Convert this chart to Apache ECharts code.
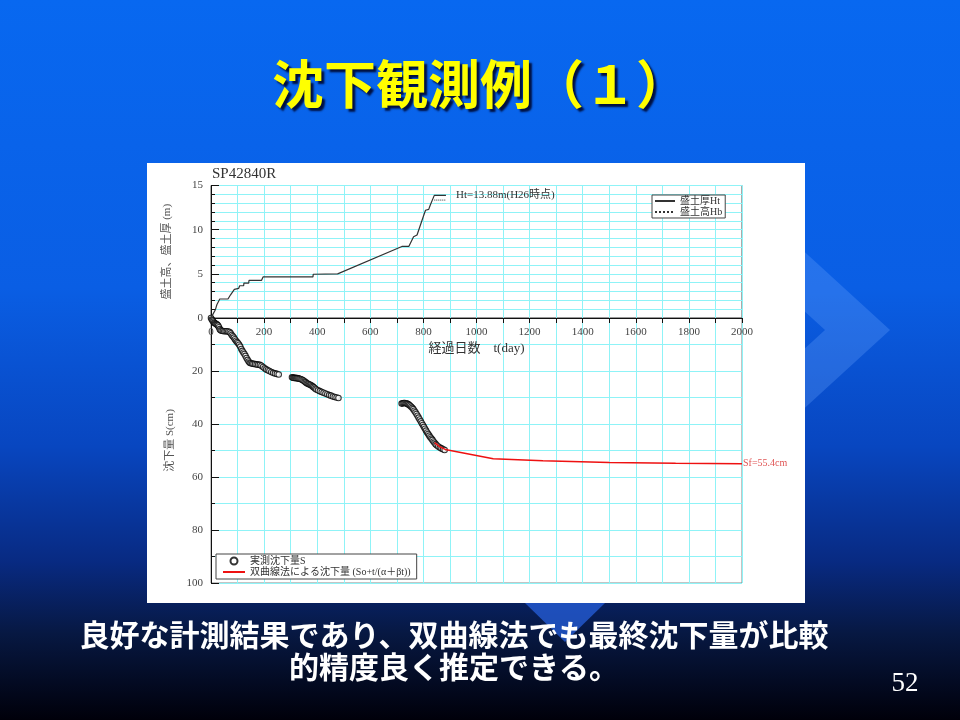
<!DOCTYPE html>
<html>
<head>
<meta charset="utf-8">
<script src="https://cdn.jsdelivr.net/npm/echarts@6/dist/echarts.min.js"></script>
<style>
  html, body { margin: 0; padding: 0; background: #000; }
  #chart { width: 960px; height: 720px; }
</style>
</head>
<body>
<div id="chart"></div>
<script>
// fill thickness Ht (m) by elapsed days
const htDays = [0, 5, 16, 22, 33, 64, 73, 88, 104, 108, 123, 124, 142, 143, 190, 196, 384, 385, 477, 719, 745, 763, 776, 801, 808, 820, 826, 841, 885]
const htValues = [0, 0.3, 0.9, 1.5, 2.15, 2.15, 2.6, 3.25, 3.35, 3.65, 3.65, 3.95, 3.95, 4.25, 4.25, 4.65, 4.65, 4.95, 5.0, 8.1, 8.1, 9.2, 9.4, 11.6, 12.2, 12.3, 12.8, 13.88, 13.88]

// fill height Hb (m)
const hbDays = [841, 885]
const hbValues = [13.35, 13.35]

// measured settlement S (cm)
const sDays = [
  0, 3, 6, 9, 12, 15, 18, 21, 24, 27, 30, 33, 36, 40, 45, 50, 55, 60, 65, 70,
  74, 78, 82, 86, 90, 94, 98, 102, 106, 110, 114, 118, 122, 126, 130, 134, 138, 142, 146, 150,
  155, 160, 166, 172, 178, 184, 190, 196, 202, 208, 214, 220, 227, 234, 241, 248, 255,
  305, 309, 313, 317, 321, 325, 329, 333, 337, 341, 345, 349, 353, 357, 361, 365, 369, 373, 377,
  381, 385, 389, 393, 397, 403, 410, 417, 424, 431, 438, 445, 452, 459, 466, 473, 480,
  718, 722, 726, 730, 734, 738, 742, 746, 750, 754, 758, 762, 766, 770, 774, 778, 782, 786, 790, 794,
  798, 802, 806, 810, 814, 818, 822, 826, 830, 834, 838, 842, 846, 850, 856, 862, 868, 874, 880
]
const sValues = [
  0, 0.6, 1.0, 1.4, 1.8, 2.0, 2.2, 2.4, 2.6, 2.9, 3.5, 4.2, 4.6, 4.8, 4.9, 5.0, 5.0, 5.0, 5.1, 5.3,
  5.8, 6.4, 6.9, 7.4, 8.0, 8.6, 9.1, 9.5, 10.1, 10.8, 11.7, 12.4, 13.0, 13.6, 14.3, 15.1, 15.8, 16.4, 16.9, 17.1,
  17.2, 17.3, 17.4, 17.5, 17.6, 17.7, 18.0, 18.5, 19.0, 19.4, 19.7, 20.0, 20.4, 20.7, 20.9, 21.1, 21.3,
  22.4, 22.5, 22.6, 22.6, 22.7, 22.7, 22.8, 22.9, 23.0, 23.2, 23.4, 23.7, 24.0, 24.3, 24.6, 24.8, 25.0, 25.2, 25.4,
  25.7, 26.0, 26.3, 26.7, 27.0, 27.3, 27.6, 27.9, 28.2, 28.5, 28.8, 29.1, 29.3, 29.6, 29.8, 30.0, 30.2,
  32.3, 32.2, 32.1, 32.1, 32.2, 32.3, 32.5, 32.8, 33.1, 33.5, 33.9, 34.4, 35.0, 35.6, 36.2, 36.9, 37.6, 38.3, 39.0, 39.7,
  40.4, 41.1, 41.8, 42.5, 43.2, 43.8, 44.4, 45.0, 45.5, 46.0, 46.6, 47.1, 47.6, 48.0, 48.5, 48.9, 49.2, 49.5, 49.8
]

// hyperbolic method prediction (cm)
const fitDays = [842, 862, 882, 1063, 1250, 1500, 1750, 2000]
const fitValues = [47.0, 48.6, 49.6, 53.1, 53.9, 54.5, 54.8, 55.0]

const serif = '"Liberation Serif", "Noto Sans CJK JP", serif'
const gridCyan = '#8ff3f7'

const pairs = (xs, ys) => xs.map((x, i) => [x, ys[i]])
const plain = v => String(v)

const chart = echarts.init(document.getElementById('chart'))

const option = {
  backgroundColor: {
    type: 'linear', x: 0, y: 0, x2: 0, y2: 1,
    colorStops: [
      { offset: 0, color: '#0868f0' },
      { offset: 0.4, color: '#0a5ee4' },
      { offset: 0.62, color: '#0846c0' },
      { offset: 0.78, color: '#082a82' },
      { offset: 0.88, color: '#071842' },
      { offset: 1, color: '#00000a' }
    ]
  },
  animation: false,
  graphic: [
    {
      type: 'polygon', z: -30, silent: true,
      shape: { points: [[650, 170], [715, 170], [890, 330], [715, 490], [650, 490], [825, 330]] },
      style: { fill: 'rgba(110,170,255,0.28)' }
    },
    {
      type: 'polygon', z: -30, silent: true,
      shape: { points: [[525, 603], [605, 603], [565, 642]] },
      style: { fill: 'rgba(40,100,230,0.7)' }
    },
    {
      type: 'rect', z: -20, silent: true,
      shape: { x: 147, y: 163, width: 658, height: 440 },
      style: { fill: '#ffffff' }
    },
    {
      type: 'text', left: 'center', top: 58,
      style: {
        text: '沈下観測例（１）', fill: '#ffff00',
        font: 'bold 52px "Noto Sans CJK JP", sans-serif',
        textShadowColor: '#001040', textShadowOffsetX: 3, textShadowOffsetY: 3, textShadowBlur: 2
      }
    },
    {
      type: 'text', x: 212, y: 167,
      style: { text: 'SP42840R', fill: '#333', font: '15px "Liberation Serif", serif' }
    },
    {
      type: 'text', x: 454, y: 619,
      style: {
        text: '良好な計測結果であり、双曲線法でも最終沈下量が比較\n的精度良く推定できる。',
        fill: '#ffffff', align: 'center', lineHeight: 32,
        font: 'bold 30px "Noto Sans CJK JP", sans-serif'
      }
    },
    {
      type: 'text', x: 905, y: 670,
      style: { text: '52', fill: '#ffffff', align: 'center', font: '27px "Liberation Serif", serif' }
    }
  ],
  legend: [
    {
      data: [
        { name: '盛土厚Ht', itemStyle: { opacity: 0 } },
        { name: '盛土高Hb', itemStyle: { opacity: 0 } }
      ],
      orient: 'vertical', left: 652, top: 195,
      itemWidth: 20, itemHeight: 8, itemGap: 1,
      padding: [1, 3, 1, 2],
      borderColor: '#444', borderWidth: 1, backgroundColor: '#fff',
      textStyle: { fontFamily: serif, fontSize: 10, color: '#333' }
    },
    {
      data: [
        { name: '実測沈下量S' },
        { name: '双曲線法による沈下量 (So+t/(α＋βt))', itemStyle: { opacity: 0 } }
      ],
      orient: 'vertical', left: 216, top: 554,
      itemWidth: 22, itemHeight: 7, itemGap: 1,
      padding: [2, 6, 2, 6],
      borderColor: '#444', borderWidth: 1, backgroundColor: '#fff',
      textStyle: { fontFamily: serif, fontSize: 10, color: '#333' }
    }
  ],
  grid: [
    { left: 211, top: 185.5, width: 531, height: 132.5, show: true, borderColor: '#555', borderWidth: 1 },
    { left: 211, top: 318, width: 531, height: 265, show: true, borderColor: '#888', borderWidth: 1 }
  ],
  xAxis: [
    {
      gridIndex: 0, type: 'value', min: 0, max: 2000, interval: 200, position: 'bottom',
      name: '経過日数　t(day)', nameLocation: 'middle', nameGap: 24,
      nameTextStyle: { fontFamily: serif, fontSize: 13, color: '#333' },
      axisLine: { lineStyle: { color: '#111', width: 1 } },
      axisTick: { length: 5, lineStyle: { color: '#111' } },
      minorTick: { show: true, splitNumber: 2, length: 5, lineStyle: { color: '#111' } },
      axisLabel: { fontFamily: serif, fontSize: 11, color: '#444', margin: 9, formatter: plain },
      splitLine: { lineStyle: { color: gridCyan } },
      minorSplitLine: { show: true, lineStyle: { color: gridCyan } }
    },
    {
      gridIndex: 1, type: 'value', min: 0, max: 2000, interval: 200,
      axisLine: { show: false }, axisTick: { show: false }, axisLabel: { show: false },
      splitLine: { lineStyle: { color: gridCyan } },
      minorTick: { show: false, splitNumber: 2 },
      minorSplitLine: { show: true, lineStyle: { color: gridCyan } }
    }
  ],
  yAxis: [
    {
      gridIndex: 0, type: 'value', min: 0, max: 15, interval: 5,
      name: '盛土高、盛土厚 (m)', nameLocation: 'middle', nameGap: 38, nameRotate: 90,
      nameTextStyle: { fontFamily: serif, fontSize: 11, color: '#555' },
      axisLine: { show: true, lineStyle: { color: '#111' } },
      axisTick: { inside: true, length: 8, lineStyle: { color: '#111' } },
      minorTick: { show: true, splitNumber: 5, length: 4, lineStyle: { color: '#111' } },
      axisLabel: { fontFamily: serif, fontSize: 11, color: '#444', margin: 8 },
      splitLine: { lineStyle: { color: gridCyan } },
      minorSplitLine: { show: true, lineStyle: { color: gridCyan } }
    },
    {
      gridIndex: 1, type: 'value', min: 0, max: 100, interval: 20, inverse: true,
      name: '沈下量 S(cm)', nameLocation: 'middle', nameGap: 33, nameRotate: 90,
      nameTextStyle: { fontFamily: serif, fontSize: 11, color: '#555', padding: [0, 0, 0, 20] },
      axisLine: { show: true, lineStyle: { color: '#111' } },
      axisTick: { inside: true, length: 8, lineStyle: { color: '#111' } },
      minorTick: { show: true, splitNumber: 2, length: 4, lineStyle: { color: '#111' } },
      axisLabel: {
        fontFamily: serif, fontSize: 11, color: '#444', margin: 8,
        formatter: v => (v === 0 ? '' : String(v))
      },
      splitLine: { lineStyle: { color: gridCyan } },
      minorSplitLine: { show: true, lineStyle: { color: gridCyan } }
    }
  ],
  series: [
    {
      name: '盛土厚Ht', type: 'line', xAxisIndex: 0, yAxisIndex: 0,
      data: pairs(htDays, htValues), symbol: 'none',
      lineStyle: { color: '#333', width: 1.2 }, itemStyle: { color: '#333' },
      endLabel: {
        show: true, distance: 10, formatter: 'Ht=13.88m(H26時点)',
        fontFamily: serif, fontSize: 11, color: '#333'
      }
    },
    {
      name: '盛土高Hb', type: 'line', xAxisIndex: 0, yAxisIndex: 0,
      data: pairs(hbDays, hbValues), symbol: 'none',
      lineStyle: { color: '#333', width: 1, type: 'dotted' }, itemStyle: { color: '#333' }
    },
    {
      name: '実測沈下量S', type: 'scatter', xAxisIndex: 1, yAxisIndex: 1,
      data: pairs(sDays, sValues), symbol: 'circle', symbolSize: 5.5,
      itemStyle: { color: '#ffffff', borderColor: '#000', borderWidth: 1.1 }
    },
    {
      name: '双曲線法による沈下量 (So+t/(α＋βt))', type: 'line', xAxisIndex: 1, yAxisIndex: 1,
      data: pairs(fitDays, fitValues), symbol: 'none', z: 3,
      lineStyle: { color: '#ee1111', width: 1.5 }, itemStyle: { color: '#ee1111' },
      endLabel: {
        show: true, distance: 1, formatter: 'Sf=55.4cm',
        fontFamily: serif, fontSize: 10, color: '#e05555'
      }
    }
  ]
}

chart.setOption(option)
</script>
</body>
</html>
